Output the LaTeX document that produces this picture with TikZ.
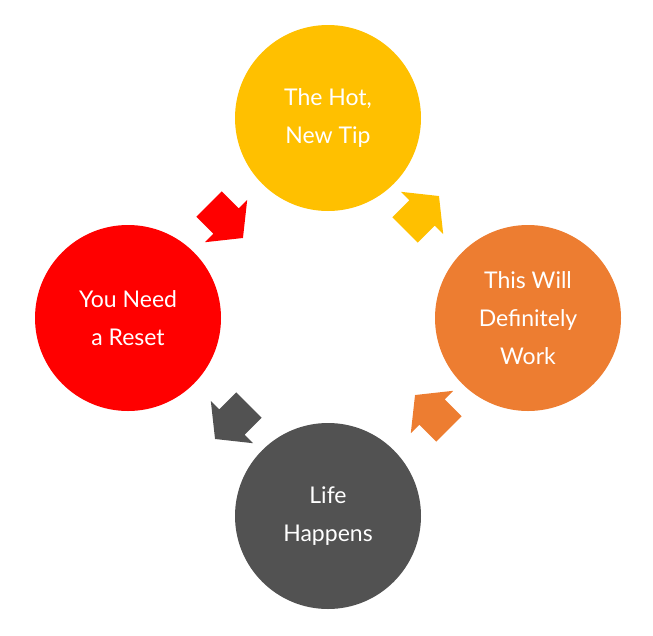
\documentclass[tikz,border=0pt]{standalone}
\usepackage{fontspec}
\setmainfont{Lato}
\definecolor{cy}{HTML}{FFC000}
\definecolor{co}{HTML}{ED7D31}
\definecolor{cg}{HTML}{525252}
\definecolor{cr}{HTML}{FF0000}
\begin{document}
\begin{tikzpicture}[x=1pt,y=-1pt,
  circ/.style={circle,minimum size=186pt,inner sep=0pt,text=white,align=center,
    font=\fontsize{23}{38}\selectfont},
  blk/.style={fill=#1}]
\useasboundingbox (0,0) rectangle (653,635);
\node[circ,fill=cy] (top) at (328,118) {The Hot,\\New Tip};
\node[circ,fill=co] (right) at (528,318) {This Will\\Definitely\\Work};
\node[circ,fill=cg] (bot) at (328,516) {Life\\Happens};
\node[circ,fill=cr] (left) at (128,318) {You Need\\a Reset};
\newcommand\blkarrow[4]{%
  \fill[#4,shift={(#1,#2)},rotate=#3]
   (-24,-18) -- (0,-18) -- (0,-30) -- (24,0) -- (0,30) -- (0,18) -- (-24,18) -- cycle;}
\blkarrow{226}{221}{-45}{cr}
\blkarrow{422}{213}{45}{cy}
\blkarrow{432}{412}{135}{co}
\blkarrow{232}{422}{-135}{cg}
\end{tikzpicture}
\end{document}
